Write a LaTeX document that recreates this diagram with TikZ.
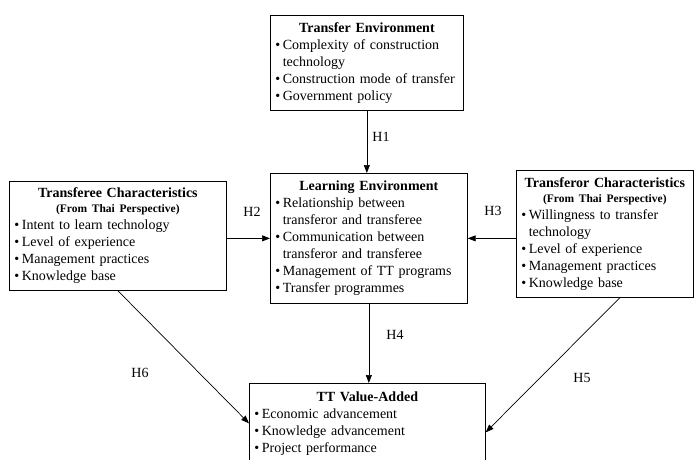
\documentclass[tikz,border=0pt]{standalone}
\usepackage{fontspec}
\setmainfont{Liberation Serif}
\usetikzlibrary{arrows.meta, positioning}
\newlength{\bulw}
\setlength{\bulw}{7.5pt}
\newcommand{\bitem}[1]{\par\noindent\hangindent=\bulw\hangafter=1\makebox[\bulw][l]{\textbullet}#1}
\newcommand{\boxtitle}[1]{{\centering\bfseries #1\par}}
\newcommand{\boxsub}[1]{{\centering\fontsize{11.5}{15}\selectfont\bfseries #1\par}}

\begin{document}
\begin{tikzpicture}[
    x=1pt, y=-1pt,
    box/.style={draw, line width=0.7pt, inner sep=5pt, align=left, anchor=north west, font=\fontsize{14}{17}\selectfont},
    hyp/.style={font=\fontsize{14}{17}\selectfont, inner sep=1pt},
    arr/.style={line width=0.7pt, -{Triangle[length=8pt, width=6pt]}},
]
\useasboundingbox (0,0) rectangle (696,459);

% Transfer environment (top)
\node[box, text width=183pt, minimum height=95pt] (tenv) at (270,15) {
    \boxtitle{Transfer Environment}
    \bitem{Complexity of construction\newline technology}
    \bitem{Construction mode of transfer}
    \bitem{Government policy}
};

% Learning environment (centre)
\node[box, text width=187pt, minimum height=130pt] (lenv) at (270,173) {
    \boxtitle{Learning Environment}
    \bitem{Relationship between\newline transferor and transferee}
    \bitem{Communication between\newline transferor and transferee}
    \bitem{Management of TT programs}
    \bitem{Transfer programmes}
};

% Transferee (left)
\node[box, text width=207pt, minimum height=109pt] (tee) at (9,181) {
    \boxtitle{Transferee Characteristics}
    \boxsub{(From Thai Perspective)}
    \bitem{Intent to learn technology}
    \bitem{Level of experience}
    \bitem{Management practices}
    \bitem{Knowledge base}
};

% Transferor (right)
\node[box, text width=167pt, minimum height=127pt] (tor) at (516,170) {
    \boxtitle{Transferor Characteristics}
    \boxsub{(From Thai Perspective)}
    \bitem{Willingness to transfer\newline technology}
    \bitem{Level of experience}
    \bitem{Management practices}
    \bitem{Knowledge base}
};

% TT value-added (bottom, cut by the page)
\node[box, text width=226pt, minimum height=80pt] (tva) at (249,383) {
    \boxtitle{TT Value-Added}
    \bitem{Economic advancement}
    \bitem{Knowledge advancement}
    \bitem{Project performance}
};

% Hypotheses
\draw[arr] (tenv.south) -- (tenv.south |- lenv.north);
\draw[arr] (tee.east |- lenv.west) -- (lenv.west);
\draw[arr] (tor.west |- lenv.east) -- (lenv.east);
\draw[arr] (lenv.south) -- (lenv.south |- tva.north);
\draw[arr] ([xshift=15pt]tor.south) -- ([yshift=-9pt]tva.east);
\draw[arr] (tee.south) -- (tva.west);

\node[hyp] (h1) at (381,137) {H1};
\node[hyp] (h2) at (252,212) {H2};
\node[hyp] (h3) at (493,211) {H3};
\node[hyp] (h4) at (395,335) {H4};
\node[hyp] (h5) at (582,378) {H5};
\node[hyp] (h6) at (140,373) {H6};

\end{tikzpicture}
\end{document}
